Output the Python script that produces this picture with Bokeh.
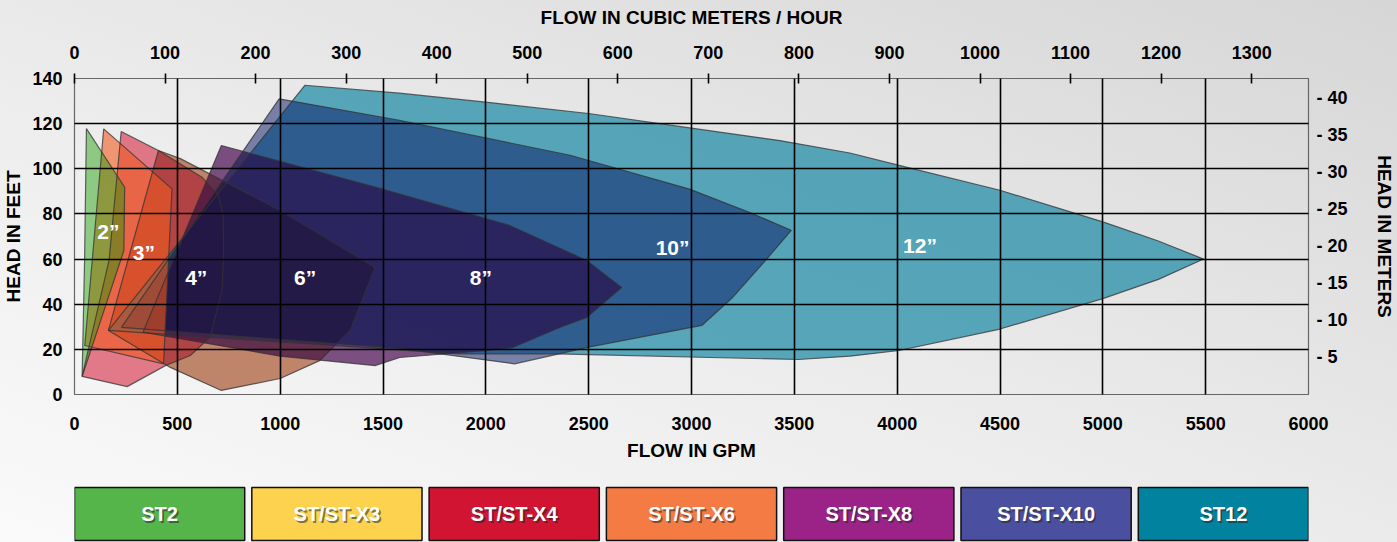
from bokeh.plotting import figure
from bokeh.models import (Range1d, LinearAxis, FixedTicker, ColumnDataSource,
                          CustomJSTickFormatter)
from bokeh.layouts import column
from bokeh.embed import file_html
from bokeh.resources import INLINE

FONT = "Liberation Sans"

# ---------------- data (flow in GPM, head in feet) ----------------
flow_12 = [165, 1120, 1580, 2000, 2500, 3000, 3430, 3770, 4010, 4500, 5000, 5270, 5490,
           5270, 5000, 4500, 4010, 3770, 3520, 3040, 2340, 1870]
head_12 = [28.4, 137, 133.5, 129.5, 124.5, 118, 112.5, 107, 101.5, 90.5, 76.5, 68, 60,
           51, 42.5, 29, 19.5, 17, 15.5, 16.5, 18, 18]

flow_10 = [228, 995, 1580, 2410, 2990, 3300, 3485, 3360, 3200, 3050, 2500, 2140, 1580]
head_10 = [29.7, 131, 121.5, 106, 91, 80, 72.7, 59.4, 43, 30.6, 21, 13.6, 20.4]

flow_8 = [333, 714, 1485, 2116, 2490, 2660, 2490, 2359, 2131, 2005, 1582, 1461, 1000]
head_8 = [27.6, 110.3, 91.3, 74.9, 59.4, 47.4, 34.1, 29.7, 20.8, 19.5, 16.4, 12.8, 17]

flow_6 = [408, 515, 1000, 1461, 1340, 1194, 1000, 714, 466, 165]
head_6 = [108.1, 104.5, 81.5, 56.3, 28.4, 15.1, 7.1, 1.8, 12, 28.4]

flow_4 = [227, 408, 620, 699, 723, 725, 717, 660, 563, 442, 256, 37, 168]
head_4 = [116.5, 108.1, 96.3, 88.2, 79.3, 63.8, 46.1, 25.4, 17.3, 12.8, 3.5, 8, 59.4]

flow_3 = [142, 474, 433, 50]
head_3 = [117.7, 91.1, 13.6, 21.7]

flow_2 = [58, 244, 240, 37, 49]
head_2 = [117.8, 91.8, 63.8, 8, 59.4]

size_labels = ["2”", "3”", "4”", "6”", "8”", "10”", "12”"]
label_flow = [165, 337, 592, 1121, 1976, 2908, 4111]
label_head = [72.2, 62.7, 52, 52, 52, 65.3, 66]

legend_names = ["ST2", "ST/ST-X3", "ST/ST-X4", "ST/ST-X6", "ST/ST-X8", "ST/ST-X10", "ST12"]
legend_colors = ["#55b54b", "#fdd24f", "#d11431", "#f47b43", "#9b2387", "#4b4f9f", "#01829f"]

gpm_ticks = list(range(0, 6001, 500))
ft_ticks = list(range(0, 141, 20))
m3h_ticks = list(range(0, 1301, 100))
m_ticks = list(range(5, 41, 5))

GPM_PER_M3H = 4.40287
FT_PER_M = 3.28084

# ---------------- chart ----------------
p = figure(width=1397, height=478, output_backend="svg", toolbar_location=None,
           x_range=Range1d(0, 6000), y_range=Range1d(0, 140),
           min_border_left=74, min_border_right=87, min_border_top=78, min_border_bottom=84)
p.background_fill_alpha = 0
p.border_fill_alpha = 0
p.outline_line_color = "#666666"
p.outline_line_width = 1.2

p.extra_x_ranges = {"m3h": Range1d(0, 6000 / GPM_PER_M3H)}
p.extra_y_ranges = {"m": Range1d(0, 140 / FT_PER_M)}

# layered translucent fills approximating the overlapping (multiplied) colours
layers = [
    (flow_6, head_6, "#f47b43", 0.6),
    (flow_4, head_4, "#d11431", 0.55),
    (flow_12, head_12, "#1788a3", 0.7),
    (flow_8, head_8, "#9b2387", 0.6),
    (flow_10, head_10, "#061364", 0.5),
    (flow_8, head_8, "#000a24", 0.35),
    (flow_6, head_6, "#0a0000", 0.22),
    (flow_3, head_3, "#f05a1e", 0.6),
    (flow_2, head_2, "#179c01", 0.45),
]
areas = ColumnDataSource(dict(
    xs=[l[0] for l in layers], ys=[l[1] for l in layers],
    fill=[l[2] for l in layers], alpha=[l[3] for l in layers],
))
p.patches("xs", "ys", source=areas, fill_color="fill", fill_alpha="alpha", line_color=None)
outlines = ColumnDataSource(dict(
    xs=[flow_12, flow_10, flow_8, flow_6, flow_4, flow_3, flow_2],
    ys=[head_12, head_10, head_8, head_6, head_4, head_3, head_2],
))
p.patches("xs", "ys", source=outlines, fill_color=None,
          line_color="#333333", line_alpha=0.75, line_width=1.2)

for g in (p.xgrid[0], p.ygrid[0]):
    g.grid_line_color = "black"
    g.grid_line_width = 1.6
    g.level = "guide"
p.xgrid[0].ticker = FixedTicker(ticks=gpm_ticks[1:-1])
p.ygrid[0].ticker = FixedTicker(ticks=ft_ticks[1:-1])

labels = ColumnDataSource(dict(x=label_flow, y=label_head, t=size_labels))
p.text("x", "y", text="t", source=labels, text_color="white", text_font_size="21px",
       text_font_style="bold", text_align="center", text_baseline="middle",
       text_font={"value": FONT}, level="annotation")

def style_axis(ax, label):
    ax.axis_label = label
    ax.axis_label_text_font = FONT
    ax.axis_label_text_font_style = "bold"
    ax.axis_label_text_font_size = "19px"
    ax.axis_label_text_color = "black"
    ax.major_label_text_font = FONT
    ax.major_label_text_font_style = "bold"
    ax.major_label_text_font_size = "18px"
    ax.major_label_text_color = "black"
    ax.axis_line_color = None
    ax.major_tick_in = 0
    ax.major_tick_out = 0
    ax.minor_tick_line_color = None

xb = p.xaxis[0]
style_axis(xb, "FLOW IN GPM")
xb.ticker = FixedTicker(ticks=gpm_ticks)
xb.major_label_standoff = 22
xb.axis_label_standoff = 7

yl = p.yaxis[0]
style_axis(yl, "HEAD IN FEET")
yl.ticker = FixedTicker(ticks=ft_ticks)
yl.major_label_standoff = 12
yl.axis_label_standoff = 5

xt = LinearAxis(x_range_name="m3h")
style_axis(xt, "FLOW IN CUBIC METERS / HOUR")
xt.ticker = FixedTicker(ticks=m3h_ticks)
xt.major_tick_in = 5
xt.major_tick_out = 5
xt.major_tick_line_color = "black"
xt.major_tick_line_width = 1.6
xt.major_label_standoff = 15
xt.axis_label_standoff = 15
p.add_layout(xt, "above")

yr = LinearAxis(y_range_name="m")
style_axis(yr, "HEAD IN METERS")
yr.ticker = FixedTicker(ticks=m_ticks)
yr.formatter = CustomJSTickFormatter(code="return '- ' + tick;")
yr.major_label_standoff = 8
yr.axis_label_standoff = 23
p.add_layout(yr, "right")

# ---------------- legend row (frame aligned with the chart frame) ----------------
lg = figure(width=1397, height=64, output_backend="svg", toolbar_location=None,
            x_range=Range1d(0, 6.96), y_range=Range1d(0, 64),
            min_border_left=74, min_border_right=87, min_border_top=0, min_border_bottom=0)
lg.axis.visible = False
lg.grid.visible = False
lg.outline_line_color = None
lg.background_fill_alpha = 0
lg.border_fill_alpha = 0

idx = list(range(len(legend_names)))
lsrc = ColumnDataSource(dict(left=idx, right=[i + 0.96 for i in idx], cx=[i + 0.48 for i in idx],
                             sx=[i + 0.489 for i in idx], c=legend_colors, t=legend_names))
lg.quad(left="left", right="right", bottom=2, top=55, source=lsrc, fill_color="c",
        line_color="#111111", line_width=1.5)
lg.text("sx", 26.5, text="t", source=lsrc, text_color="#222222", text_alpha=0.55, text_font_size="20px",
        text_font_style="bold", text_align="center", text_baseline="middle", text_font={"value": FONT})
lg.text("cx", 28.5, text="t", source=lsrc, text_color="white", text_font_size="20px",
        text_font_style="bold", text_align="center", text_baseline="middle", text_font={"value": FONT})

page = column(p, lg, spacing=0,
              styles={"background": "linear-gradient(20deg, #fafafa 0%, #ececec 45%, #d6d6d6 100%)"})

open("out.html", "w").write(file_html(page, INLINE))
